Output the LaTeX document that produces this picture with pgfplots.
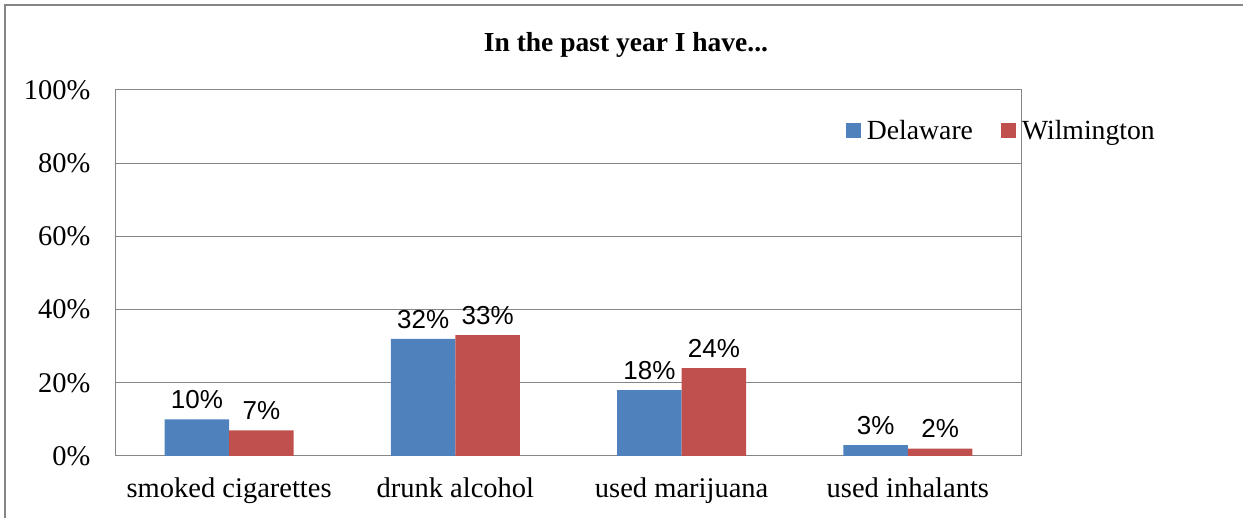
\documentclass[border=0pt]{standalone}
\usepackage{fontspec}
\setmainfont{Liberation Serif}
\newfontfamily\labfont{Liberation Sans}
\usepackage{pgfplots}
\pgfplotsset{compat=1.18}
\definecolor{dblue}{HTML}{4F81BD}
\definecolor{wred}{HTML}{C0504D}
\definecolor{gline}{HTML}{868686}
\begin{document}
\begin{tikzpicture}
\useasboundingbox (0,0) rectangle (1243pt,518pt);
\draw[gline, line width=2pt] (5pt,0) -- (5pt,513pt) -- (1243pt,513pt);
\node[font=\fontsize{27.5}{32}\selectfont\bfseries] at (626pt,473pt) {In the past year I have...};
\begin{axis}[
  at={(116pt,62pt)}, anchor=south west,
  scale only axis, width=905pt, height=366pt,
  ybar=0pt, bar width=64.5pt,
  xmin=-0.5, xmax=3.5, ymin=0, ymax=100,
  xtick={0,1,2,3},
  xticklabels={smoked cigarettes, drunk alcohol, used marijuana, used inhalants},
  ytick={0,20,40,60,80,100},
  yticklabels={0\%,20\%,40\%,60\%,80\%,100\%},
  major tick length=0pt,
  axis line style={gline, line width=1pt},
  ymajorgrids, grid style={gline, line width=1pt},
  tick label style={font=\fontsize{28.5}{32}\selectfont},
  yticklabel style={xshift=-22pt},
  xticklabel style={yshift=-18pt},
  /pgf/number format/assume math mode=true,
  nodes near coords={\labfont\pgfmathprintnumber{\pgfplotspointmeta}\%},
  every node near coord/.append style={font=\labfont\fontsize{26}{28}\selectfont, black, yshift=7pt},
  legend columns=2,
  legend style={draw=none, fill=none, at={(0.803,0.89)}, anchor=west,
    font=\fontsize{27.7}{30}\selectfont, column sep=4pt,
    /tikz/every even column/.append style={column sep=26pt}},
  legend image code/.code={\fill[#1] (0pt,-7.5pt) rectangle (15pt,7.5pt);},
]
\addplot[fill=dblue, draw=none] coordinates {(0,10) (1,32) (2,18) (3,3)};
\addplot[fill=wred, draw=none] coordinates {(0,7) (1,33) (2,24) (3,2)};
\legend{Delaware, Wilmington}
\end{axis}
\end{tikzpicture}
\end{document}
